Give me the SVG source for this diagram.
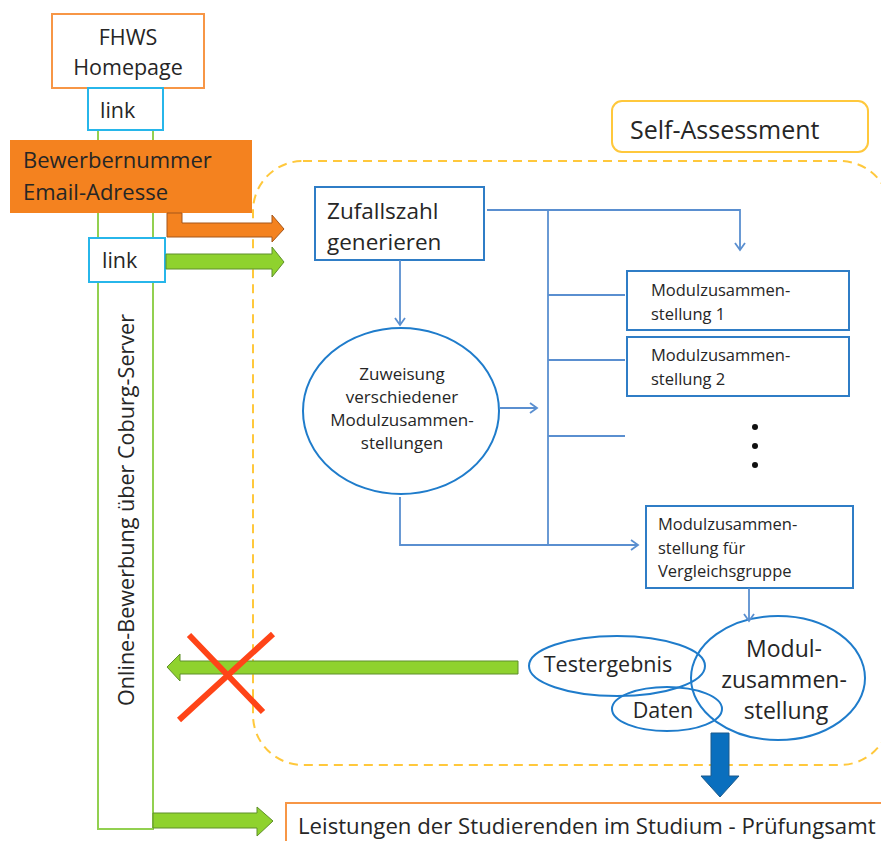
<svg xmlns="http://www.w3.org/2000/svg" width="881" height="841" viewBox="0 0 881 841">
<defs>
<style>
text{font-family:"Open Sans","Noto Sans","Liberation Sans",sans-serif;fill:#262626}
.big{font-size:21.5px}
.sm{font-size:16.5px}
.box{fill:#fff;stroke:#2f7dc6;stroke-width:2}
.ell{fill:none;stroke:#1f7ccb;stroke-width:2}
.con{fill:none;stroke:#5a8fd0;stroke-width:1.8}
.link{fill:#fff;stroke:#27b6ea;stroke-width:2}
.garrow{fill:#8fd22e;stroke:#5f8f2a;stroke-width:1}
</style>
<marker id="ah" markerWidth="12" markerHeight="12" refX="10" refY="6" orient="auto" markerUnits="userSpaceOnUse">
<path d="M3,1 L10,6 L3,11" fill="none" stroke="#5a8fd0" stroke-width="1.8"/>
</marker>
</defs>
<rect width="881" height="841" fill="#fff"/>

<!-- Self-Assessment region -->
<g id="self-assessment-region">
<rect x="253" y="161" width="637" height="604" rx="50" fill="none" stroke="#ffc83c" stroke-width="2" stroke-dasharray="9,6"/>
</g>
<g id="self-assessment-label">
<rect x="612" y="101" width="256" height="51" rx="10" fill="#fff" stroke="#ffc83c" stroke-width="2"/>
<text x="630" y="139" style="font-size:25px">Self-Assessment</text>
</g>

<!-- Left column -->
<g id="server-column">
<rect x="98" y="130" width="55" height="699" fill="#fff" stroke="#92d050" stroke-width="2"/>
<text transform="translate(134,510) rotate(-90)" text-anchor="middle" style="font-size:21.6px">Online-Bewerbung über Coburg-Server</text>
</g>
<g id="fhws">
<rect x="52" y="14" width="152" height="74" fill="#fff" stroke="#f79646" stroke-width="2"/>
<text x="128" y="45" text-anchor="middle" class="big">FHWS</text>
<text x="128" y="75" text-anchor="middle" class="big">Homepage</text>
</g>
<g id="link1">
<rect x="88" y="88" width="75" height="42" class="link"/>
<text x="100" y="118" class="big">link</text>
</g>
<g id="bewerber">
<rect x="10" y="140" width="242" height="73" fill="#f4821f"/>
<text x="23" y="168" style="font-size:22px">Bewerbernummer</text>
<text x="23" y="200" style="font-size:22px">Email-Adresse</text>
</g>
<g id="link2">
<rect x="89" y="238" width="76" height="44" class="link"/>
<text x="102" y="268" class="big">link</text>
</g>

<!-- Self assessment nodes -->
<g id="zufallszahl">
<rect x="315" y="187" width="169" height="73" class="box"/>
<text x="327" y="219" style="font-size:22.5px">Zufallszahl</text>
<text x="327" y="250" style="font-size:22.5px">generieren</text>
</g>
<g id="zuweisung">
<ellipse cx="401" cy="411" rx="98" ry="83" class="ell"/>
<text x="402" y="380" text-anchor="middle" style="font-size:17px">Zuweisung</text>
<text x="402" y="403" text-anchor="middle" style="font-size:17px">verschiedener</text>
<text x="402" y="426" text-anchor="middle" style="font-size:17px">Modulzusammen-</text>
<text x="402" y="449" text-anchor="middle" style="font-size:17px">stellungen</text>
</g>
<g id="modul1">
<rect x="627" y="271" width="222" height="59" class="box"/>
<text x="651" y="296" class="sm">Modulzusammen-</text>
<text x="651" y="320" class="sm">stellung 1</text>
</g>
<g id="modul2">
<rect x="627" y="337" width="222" height="59" class="box"/>
<text x="651" y="361" class="sm">Modulzusammen-</text>
<text x="651" y="385" class="sm">stellung 2</text>
</g>
<g id="dots">
<circle cx="755" cy="427" r="3" fill="#111"/>
<circle cx="755" cy="446" r="3" fill="#111"/>
<circle cx="755" cy="465" r="3" fill="#111"/>
</g>
<g id="vergleich">
<rect x="646" y="506" width="207" height="82" class="box"/>
<text x="658" y="530" class="sm">Modulzusammen-</text>
<text x="658" y="554" class="sm">stellung für</text>
<text x="658" y="577" class="sm">Vergleichsgruppe</text>
</g>
<g id="ergebnis">
<ellipse cx="617" cy="666" rx="88" ry="30" class="ell"/>
<ellipse cx="778" cy="678" rx="87" ry="62" class="ell"/>
<ellipse cx="667" cy="709" rx="55" ry="22" class="ell"/>
<text x="608" y="672" text-anchor="middle" class="big">Testergebnis</text>
<text x="663" y="718" text-anchor="middle" class="big">Daten</text>
<text x="784" y="657" text-anchor="middle" style="font-size:23px">Modul-</text>
<text x="784" y="688" text-anchor="middle" style="font-size:23px">zusammen-</text>
<text x="786" y="719" text-anchor="middle" style="font-size:23px">stellung</text>
</g>
<g id="pruefungsamt">
<rect x="286" y="803" width="610" height="50" fill="#fff" stroke="#f79646" stroke-width="2"/>
<text x="298" y="834" style="font-size:22.2px">Leistungen der Studierenden im Studium - Prüfungsamt</text>
</g>

<!-- Connectors -->
<g id="connectors">
<path class="con" d="M487,210 H740 V250" marker-end="url(#ah)"/>
<path class="con" d="M548,210 V545"/>
<path class="con" d="M548,295 H625 M548,360 H625 M548,436 H625"/>
<path class="con" d="M400,260 V325" marker-end="url(#ah)"/>
<path class="con" d="M500,408 H537" marker-end="url(#ah)"/>
<path class="con" d="M400,497 V545 H638" marker-end="url(#ah)"/>
<path class="con" d="M749,588 V621" marker-end="url(#ah)"/>
<polygon points="167,213 182,213 182,223 272,223 272,215 284,229 272,242 272,237 167,237" fill="#f4821f" stroke="#a5561a" stroke-width="1"/>
<polygon points="166,254 272,254 272,247 284,262 272,277 272,269 166,269" class="garrow"/>
<polygon points="518,661 180,661 180,654 167,667 180,681 180,674 518,674" class="garrow"/>
<polygon points="153,813 257,813 257,807 273,821 257,836 257,828 153,828" class="garrow"/>
<polygon points="711,733 729,733 729,776 739,776 720,797 701,776 711,776" fill="#0a6fbe" stroke="#1d5a8c" stroke-width="1"/>
<path d="M189,635 L263,712 M273,634 L179,720" stroke="#ff4418" stroke-width="6" fill="none"/>
</g>
</svg>
